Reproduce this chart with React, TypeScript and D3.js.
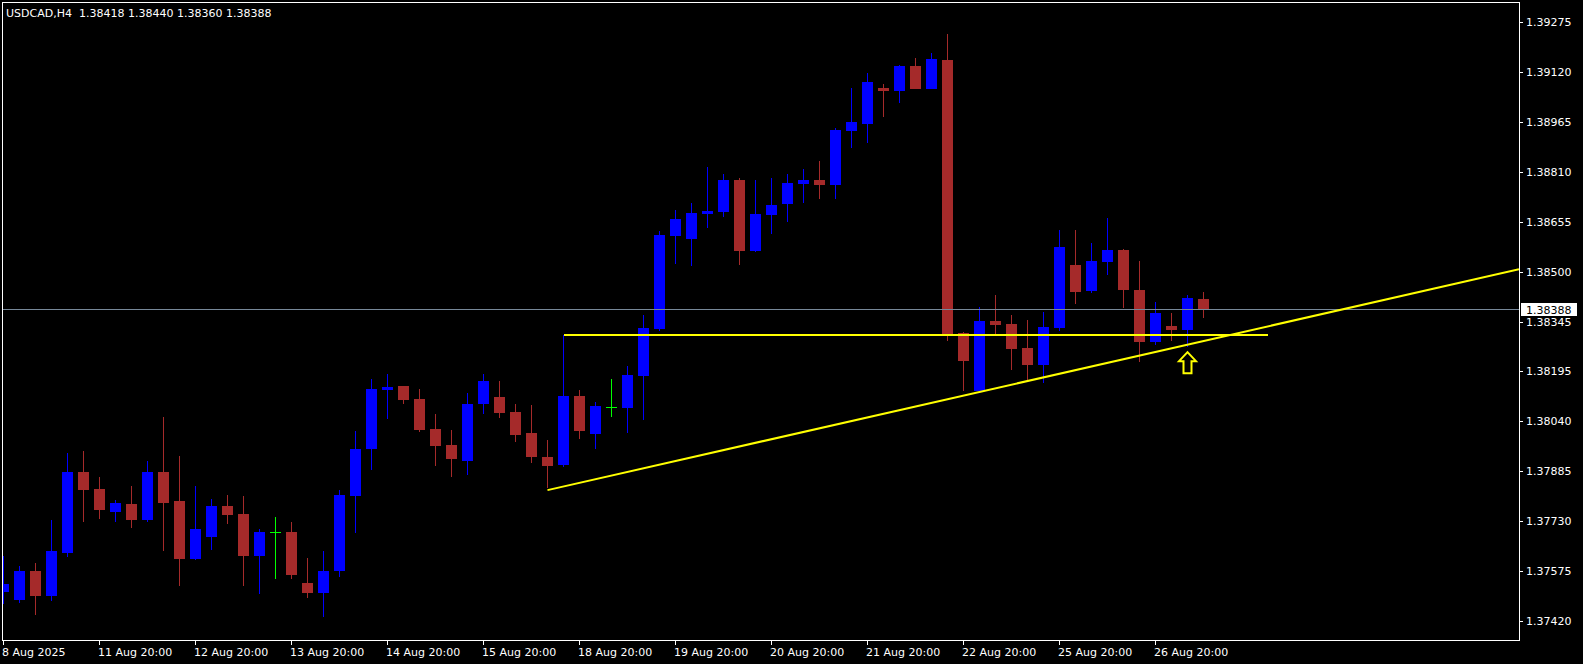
import React from "react";
import * as d3 from "d3";

const symbolTitle = "USDCAD,H4";

const openP = [1.37510,1.37486,1.37576,1.37498,1.37632,1.37882,1.37829,1.37758,1.37783,1.37733,
1.37882,1.37792,1.37613,1.37680,1.37777,1.37752,1.37622,1.37696,1.37696,1.37538,
1.37507,1.37576,1.37808,1.37953,1.38136,1.38148,1.38108,1.38015,1.37965,1.37916,
1.38092,1.38114,1.38068,1.38002,1.37929,1.37904,1.38117,1.37999,1.38083,1.38080,
1.38179,1.38324,1.38612,1.38603,1.38681,1.38687,1.38786,1.38566,1.38677,1.38712,
1.38774,1.38786,1.38771,1.38937,1.38959,1.39071,1.39062,1.39138,1.39068,1.39157,
1.38312,1.38133,1.38349,1.38340,1.38265,1.38214,1.38328,1.38523,1.38442,1.38532,
1.38569,1.38446,1.38284,1.38334,1.38321,1.38418];

const highP = [1.37622,1.37591,1.37601,1.37733,1.37940,1.37946,1.37867,1.37795,1.37839,1.37916,
1.38052,1.37932,1.37839,1.37798,1.37811,1.37808,1.37705,1.37742,1.37727,1.37616,
1.37637,1.37826,1.38009,1.38170,1.38186,1.38148,1.38139,1.38061,1.38012,1.38127,
1.38186,1.38164,1.38092,1.38089,1.37981,1.38306,1.38136,1.38099,1.38170,1.38210,
1.38368,1.38628,1.38693,1.38715,1.38827,1.38805,1.38792,1.38786,1.38792,1.38805,
1.38820,1.38844,1.38947,1.39071,1.39117,1.39083,1.39141,1.39163,1.39179,1.39238,
1.38315,1.38393,1.38430,1.38368,1.38352,1.38377,1.38631,1.38631,1.38590,1.38668,
1.38571,1.38535,1.38408,1.38374,1.38430,1.38440];

const lowP = [1.37473,1.37476,1.37439,1.37483,1.37619,1.37727,1.37736,1.37727,1.37708,1.37727,
1.37637,1.37529,1.37610,1.37640,1.37721,1.37529,1.37504,1.37551,1.37551,1.37492,
1.37433,1.37557,1.37693,1.37888,1.38046,1.38092,1.38005,1.37901,1.37867,1.37873,
1.38061,1.38049,1.37974,1.37910,1.37833,1.37898,1.37984,1.37953,1.38052,1.38002,
1.38043,1.38318,1.38526,1.38520,1.38637,1.38671,1.38523,1.38563,1.38618,1.38656,
1.38715,1.38727,1.38727,1.38885,1.38900,1.38981,1.39024,1.39068,1.39068,1.38287,
1.38133,1.38130,1.38309,1.38198,1.38167,1.38158,1.38318,1.38402,1.38436,1.38492,
1.38390,1.38223,1.38275,1.38287,1.38268,1.38360];

const closeP = [1.37535,1.37576,1.37498,1.37637,1.37882,1.37826,1.37764,1.37786,1.37733,1.37882,
1.37786,1.37613,1.37705,1.37777,1.37749,1.37622,1.37696,1.37696,1.37563,1.37507,
1.37576,1.37811,1.37953,1.38139,1.38145,1.38105,1.38012,1.37962,1.37923,1.38092,
1.38164,1.38064,1.37996,1.37929,1.37901,1.38117,1.38009,1.38086,1.38083,1.38183,
1.38328,1.38615,1.38665,1.38684,1.38690,1.38786,1.38566,1.38681,1.38709,1.38777,
1.38786,1.38771,1.38940,1.38965,1.39090,1.39062,1.39138,1.39068,1.39160,1.38309,
1.38226,1.38349,1.38337,1.38262,1.38214,1.38331,1.38578,1.38439,1.38535,1.38569,
1.38446,1.38284,1.38374,1.38321,1.38421,1.38388];

const priceTickLabels = ["1.39275","1.39120","1.38965","1.38810","1.38655","1.38500","1.38345","1.38195","1.38040","1.37885","1.37730","1.37575","1.37420"];

const timeTickIndex = [0,6,12,18,24,30,36,42,48,54,60,66,72];
const timeTickLabels = ["8 Aug 2025","11 Aug 20:00","12 Aug 20:00","13 Aug 20:00","14 Aug 20:00","15 Aug 20:00","18 Aug 20:00","19 Aug 20:00","20 Aug 20:00","21 Aug 20:00","22 Aug 20:00","25 Aug 20:00","26 Aug 20:00"];

// trend line anchors (bar index, price)
const trendFrom = { i: 34, p: 1.37826 };
const trendTo = { i: 61, p: 1.38130 };
// horizontal line
const levelLine = { from: 35, to: 79, p: 1.38306 };
// arrow marker
const arrowMark = { i: 74, p: 1.38253 };

const W = 1583, H = 664;
const plotLeft = 2, plotTop = 2, plotRight = 1519, plotBottom = 640;
const visibleMin = 1.37362, visibleMax = 1.39337;
const barStep = 16, firstBarX = 3.5, bodyW = 11;

const BULL = "#0000FF", BEAR = "#A52A2A", DOJI = "#00FF00";
const FONT = "DejaVu Sans";

export default function App() {
  const n = openP.length;
  const x = d3.scaleLinear().domain([0, n - 1]).range([firstBarX, firstBarX + barStep * (n - 1)]);
  const y = d3.scaleLinear().domain([visibleMin, visibleMax]).range([plotBottom, plotTop]);

  const last = n - 1;
  const title = `${symbolTitle}  ${openP[last].toFixed(5)} ${highP[last].toFixed(5)} ${lowP[last].toFixed(5)} ${closeP[last].toFixed(5)}`;
  const lastPrice = closeP[last];

  // trend ray extended to right edge
  const slope = (trendTo.p - trendFrom.p) / (trendTo.i - trendFrom.i);
  const edgeIdx = x.invert(plotRight);
  const trendEndP = trendFrom.p + slope * (edgeIdx - trendFrom.i);

  const ax = x(arrowMark.i);
  const ay = y(arrowMark.p);
  const arrowPath = d3.path();
  arrowPath.moveTo(ax, ay);
  arrowPath.lineTo(ax + 8.5, ay + 9);
  arrowPath.lineTo(ax + 4, ay + 9);
  arrowPath.lineTo(ax + 4, ay + 21);
  arrowPath.lineTo(ax - 4, ay + 21);
  arrowPath.lineTo(ax - 4, ay + 9);
  arrowPath.lineTo(ax - 8.5, ay + 9);
  arrowPath.closePath();

  return (
    <svg width={W} height={H} style={{ position: "fixed", left: 0, top: 0, display: "block" }} xmlns="http://www.w3.org/2000/svg">
      <defs>
        <clipPath id="plot">
          <rect x={plotLeft + 1} y={plotTop + 1} width={plotRight - plotLeft - 1} height={plotBottom - plotTop - 1} />
        </clipPath>
      </defs>
      <rect x={0} y={0} width={W} height={H} fill="#000" />

      <g clipPath="url(#plot)" shapeRendering="crispEdges">
        {d3.range(n).map((i) => {
          const o = openP[i], c = closeP[i], h = highP[i], l = lowP[i];
          const col = c > o ? BULL : c < o ? BEAR : DOJI;
          const cx = x(i);
          const top = y(Math.max(o, c));
          const bot = y(Math.min(o, c));
          return (
            <g key={i}>
              <rect x={Math.floor(cx)} y={y(h)} width={1} height={Math.max(1, y(l) - y(h))} fill={col} />
              <rect x={cx - bodyW / 2} y={top} width={bodyW} height={Math.max(1, bot - top)} fill={col} />
            </g>
          );
        })}
        <line x1={plotLeft} x2={plotRight} y1={Math.round(y(lastPrice)) + 0.5} y2={Math.round(y(lastPrice)) + 0.5} stroke="#778899" strokeWidth={1} />
      </g>

      <g clipPath="url(#plot)">
        <line x1={x(levelLine.from)} x2={x(levelLine.to)} y1={y(levelLine.p)} y2={y(levelLine.p)} stroke="#FFFF00" strokeWidth={2} shapeRendering="crispEdges" />
        <line x1={x(trendFrom.i)} y1={y(trendFrom.p)} x2={plotRight} y2={y(trendEndP)} stroke="#FFFF00" strokeWidth={2} />
        <path d={arrowPath.toString()} fill="none" stroke="#FFFF00" strokeWidth={2} strokeLinejoin="miter" />
      </g>

      {/* frame */}
      <g shapeRendering="crispEdges" stroke="#FFFFFF" strokeWidth={1}>
        <line x1={plotLeft + 0.5} x2={plotLeft + 0.5} y1={plotTop} y2={plotBottom + 1} />
        <line x1={plotLeft} x2={plotRight + 1} y1={plotTop + 0.5} y2={plotTop + 0.5} />
        <line x1={plotRight + 0.5} x2={plotRight + 0.5} y1={plotTop} y2={plotBottom + 1} />
        <line x1={plotLeft} x2={plotRight + 1} y1={plotBottom + 0.5} y2={plotBottom + 0.5} />
      </g>

      {/* price axis */}
      <g fontFamily={FONT} fontSize={11} fill="#FFFFFF">
        {priceTickLabels.map((lbl) => {
          const py = y(+lbl);
          return (
            <g key={lbl}>
              <line x1={plotRight + 1} x2={plotRight + 4} y1={Math.round(py) + 0.5} y2={Math.round(py) + 0.5} stroke="#FFFFFF" shapeRendering="crispEdges" />
              <text x={plotRight + 7} y={py + 4}>{lbl}</text>
            </g>
          );
        })}
        <rect x={plotRight + 2} y={Math.round(y(lastPrice)) - 6} width={56} height={13} fill="#FFFFFF" shapeRendering="crispEdges" />
        <text x={plotRight + 7} y={Math.round(y(lastPrice)) + 4.5} fill="#000000">{lastPrice.toFixed(5)}</text>
      </g>

      {/* time axis */}
      <g fontFamily={FONT} fontSize={11} fill="#FFFFFF">
        {timeTickIndex.map((ti, k) => {
          const tx = Math.floor(x(ti)) + 0.5;
          return (
            <g key={ti}>
              <line x1={tx} x2={tx} y1={plotBottom + 1} y2={plotBottom + 5} stroke="#FFFFFF" shapeRendering="crispEdges" />
              <text x={tx - 1.5} y={655.5}>{timeTickLabels[k]}</text>
            </g>
          );
        })}
      </g>

      <text x={6} y={17} fontFamily={FONT} fontSize={11} fill="#FFFFFF" style={{ whiteSpace: "pre" }}>{title}</text>
    </svg>
  );
}
